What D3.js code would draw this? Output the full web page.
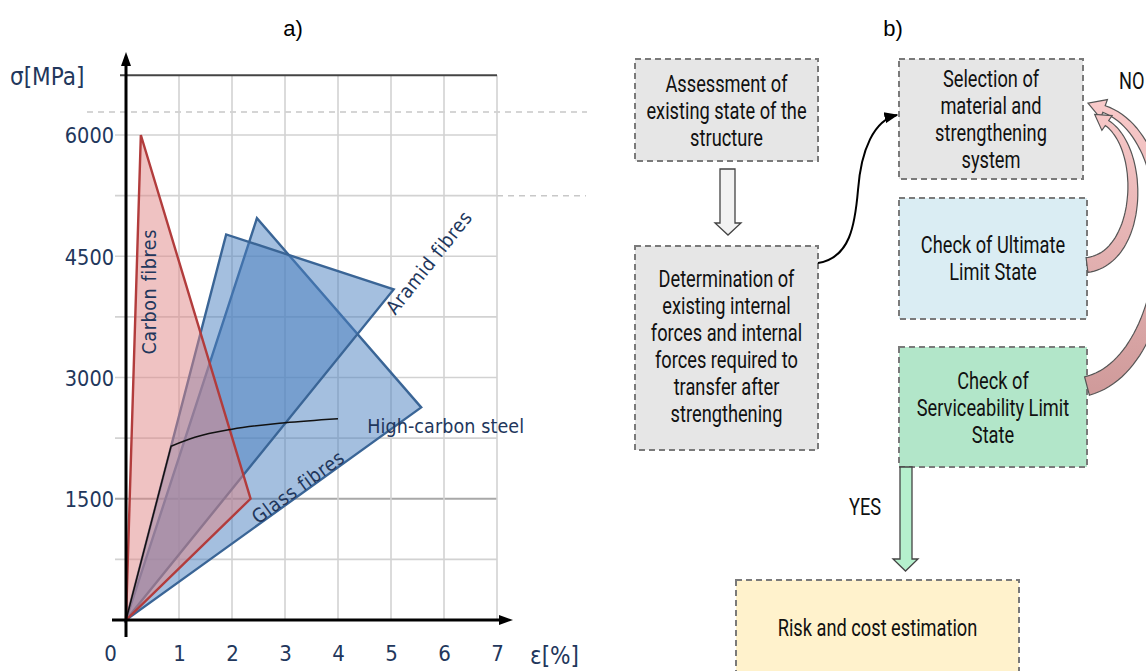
<!DOCTYPE html>
<html><head><meta charset="utf-8">
<script src="https://cdn.jsdelivr.net/npm/d3@7"></script>
<style>body{margin:0;background:#fff;overflow:hidden} svg{display:block}</style>
</head><body><svg id="c" width="1146" height="671"></svg>
<script>
// ---------- DATA ----------
const strainTicks = [0, 1, 2, 3, 4, 5, 6, 7];
const stressTickLabels = [1500, 3000, 4500, 6000];
const stressGrid = [750, 1500, 2250, 3000, 3750, 4500, 5250, 6000];
const carbonFibres = [[0, 0], [0.28, 6000], [2.35, 1500]];
const aramidFibres = [[0, 0], [1.89, 4770], [5.05, 4090]];
const glassFibres = [[0, 0], [2.47, 4970], [5.57, 2630]];
const highCarbonSteel = [[0, 0], [0.85, 2150], [1.3, 2260], [2, 2360], [3, 2440], [4, 2490]];
const materialNames = ["Carbon fibres", "Aramid fibres", "Glass fibres", "High-carbon steel"];
const flowTexts = [
  ["Assessment of", "existing state of the", "structure"],
  ["Determination of", "existing internal", "forces and internal", "forces required to", "transfer after", "strengthening"],
  ["Selection of", "material and", "strengthening", "system"],
  ["Check of Ultimate", "Limit State"],
  ["Check of", "Serviceability Limit", "State"],
  ["Risk and cost estimation"]
];
const decisionLabels = ["YES", "NO"];

// ---------- LAYOUT ----------
const svg = d3.select("#c");
const x = d3.scaleLinear().domain([0, 7]).range([126, 497]);
const y = d3.scaleLinear().domain([0, 6000]).range([620, 135]);
const chartFont = "'DejaVu Sans Condensed','DejaVu Sans',sans-serif";
const navy = "#22375c";

// titles
svg.append("text").attr("x", 293).attr("y", 36).attr("text-anchor", "middle")
  .attr("font-family", "'Liberation Sans',Arial,sans-serif").attr("font-size", 22).text("a)");
svg.append("text").attr("x", 893).attr("y", 36).attr("text-anchor", "middle")
  .attr("font-family", "'Liberation Sans',Arial,sans-serif").attr("font-size", 22).text("b)");

const g = svg.append("g");

// decorative dashed lines
g.append("line").attr("x1", 87).attr("x2", 587).attr("y1", y(6285)).attr("y2", y(6285))
  .attr("stroke", "#c8c8c8").attr("stroke-width", 1.5).attr("stroke-dasharray", "6,5");
g.append("line").attr("x1", x(7)).attr("x2", 586).attr("y1", y(5250)).attr("y2", y(5250))
  .attr("stroke", "#c8c8c8").attr("stroke-width", 1.5).attr("stroke-dasharray", "6,5");

// grid
g.selectAll(".hg").data(stressGrid).enter().append("line")
  .attr("x1", 115).attr("x2", x(7)).attr("y1", d => y(d)).attr("y2", d => y(d))
  .attr("stroke", d => d === 1500 ? "#a8a8a8" : "#d2d2d2").attr("stroke-width", d => d === 1500 ? 2 : 1.6);
g.selectAll(".vg").data(strainTicks.slice(1)).enter().append("line")
  .attr("x1", d => x(d)).attr("x2", d => x(d)).attr("y1", y(6740)).attr("y2", y(0))
  .attr("stroke", "#d2d2d2").attr("stroke-width", 1.6);
// top border
g.append("line").attr("x1", 120).attr("x2", x(7)).attr("y1", y(6740)).attr("y2", y(6740))
  .attr("stroke", "#444").attr("stroke-width", 2);

// materials
const line = d3.line().x(d => x(d[0])).y(d => y(d[1]));
const polys = [
  {pts: glassFibres, fill: "#4a7fc0", stroke: "#3a6596"},
  {pts: aramidFibres, fill: "#4a7fc0", stroke: "#3a6596"},
  {pts: carbonFibres, fill: "#e08585", stroke: "#b23c3c"}
];
g.selectAll(".mat").data(polys).enter().append("path")
  .attr("d", d => line(d.pts) + "Z")
  .attr("fill", d => d.fill).attr("fill-opacity", 0.5)
  .attr("stroke", d => d.stroke).attr("stroke-width", 2.4).attr("stroke-linejoin", "miter");

// steel curve: straight elastic part, then smooth hardening curve
const curve = d3.line().x(d => x(d[0])).y(d => y(d[1])).curve(d3.curveMonotoneX);
const steelD = "M" + x(highCarbonSteel[0][0]) + "," + y(highCarbonSteel[0][1]) + "L" + curve(highCarbonSteel.slice(1)).slice(1);
g.append("path").attr("d", steelD).attr("fill", "none").attr("stroke", "#111").attr("stroke-width", 1.5);

// axes lines with arrows
g.append("line").attr("x1", x(0)).attr("x2", x(0)).attr("y1", 637).attr("y2", 62)
  .attr("stroke", "#000").attr("stroke-width", 3);
g.append("path").attr("d", `M${x(0)},52 L${x(0) - 5},66 L${x(0) + 5},66 Z`).attr("fill", "#000");
g.append("line").attr("x1", 112).attr("x2", 503).attr("y1", y(0)).attr("y2", y(0))
  .attr("stroke", "#000").attr("stroke-width", 3);
g.append("path").attr("d", `M513,${y(0)} L499,${y(0) - 5} L499,${y(0) + 5} Z`).attr("fill", "#000");

// tick labels via d3 axes
const yAxis = d3.axisLeft(y).tickValues(stressTickLabels).tickSize(0).tickPadding(0).tickFormat(d3.format("d"));
const ya = g.append("g").attr("transform", "translate(114,0)").call(yAxis);
ya.select(".domain").remove();
ya.selectAll("text").attr("font-family", chartFont).attr("font-size", 21.5).attr("fill", navy).attr("dy", "0.36em");

const xAxis = d3.axisBottom(x).tickValues(strainTicks).tickSize(0).tickPadding(0).tickFormat(d3.format("d"));
const xa = g.append("g").attr("transform", "translate(0,645)").call(xAxis);
xa.select(".domain").remove();
xa.selectAll("text").attr("font-family", chartFont).attr("font-size", 22).attr("fill", navy)
  .attr("dy", "0.71em").attr("dx", d => d === 0 ? -16 : 0);

// axis titles
g.append("text").attr("x", 10).attr("y", 85).attr("font-family", chartFont).attr("font-size", 24)
  .attr("fill", navy).text("σ[MPa]");
g.append("text").attr("x", 530).attr("y", 664).attr("font-family", chartFont).attr("font-size", 24)
  .attr("fill", navy).text("ε[%]");

// material labels
function label(txt, dx, dy, angle, anchor, ls) {
  g.append("text").attr("transform", `translate(${x(dx)},${y(dy)}) rotate(${angle})`)
    .attr("text-anchor", anchor).attr("dominant-baseline", "central")
    .attr("font-family", chartFont).attr("font-size", 19.5).attr("letter-spacing", ls)
    .attr("fill", navy).text(txt);
}
label(materialNames[0], 0.45, 4060, -90, "middle", 0.6);
label(materialNames[1], 5.72, 4420, -51.5, "middle", 0.6);
label(materialNames[2], 3.25, 1640, -36, "middle", 0.6);
label(materialNames[3], 4.55, 2400, 0, "start", 0.1);

// ---------- FLOWCHART ----------
const boxes = [
  {x: 635, y: 59, w: 183, h: 102, fill: "#e6e6e6", cx: 726.5, base: 92},
  {x: 635, y: 246, w: 183, h: 204, fill: "#e6e6e6", cx: 726.5, base: 287},
  {x: 899, y: 59, w: 184, h: 120, fill: "#e6e6e6", cx: 991, base: 87},
  {x: 899, y: 198, w: 188, h: 121, fill: "#daedf3", cx: 993, base: 253},
  {x: 899, y: 347, w: 188, h: 120, fill: "#b2e6c9", cx: 993, base: 389},
  {x: 736, y: 580, w: 283, h: 130, fill: "#fff2cc", cx: 877.5, base: 636}
];
const fg = svg.append("g");
const flowFont = "Roboto,'Liberation Sans',sans-serif";

svg.append("defs").html(`
  <marker id="ah" viewBox="0 0 10 10" refX="9" refY="5" markerWidth="7" markerHeight="7" orient="auto">
    <path d="M0,1 L10,5 L0,9 Z" fill="#000"/></marker>
  <linearGradient id="pg" gradientUnits="userSpaceOnUse" x1="0" y1="100" x2="0" y2="395">
    <stop offset="0" stop-color="#f9caca"/><stop offset="1" stop-color="#cf9a9a"/></linearGradient>`);

fg.selectAll(".box").data(boxes).enter().append("rect")
  .attr("x", d => d.x).attr("y", d => d.y).attr("width", d => d.w).attr("height", d => d.h)
  .attr("fill", d => d.fill).attr("stroke", "#7a7a7a").attr("stroke-width", 2).attr("stroke-dasharray", "6,4");

boxes.forEach((b, i) => {
  flowTexts[i].forEach((t, j) => {
    fg.append("text").attr("transform", `translate(${b.cx},${b.base + j * 27}) scale(0.76,1)`)
      .attr("text-anchor", "middle").attr("font-family", flowFont).attr("font-size", 24)
      .attr("fill", "#111").text(t);
  });
});

// hollow down arrow
fg.append("path").attr("d", "M720,169 L735,169 L735,223 L741,223 L728,235 L715,223 L720,223 Z")
  .attr("fill", "#f2f2f2").attr("stroke", "#444").attr("stroke-width", 1.3);
// green down arrow
fg.append("path").attr("d", "M900,467 L912,467 L912,559 L918,559 L905.5,571 L893,559 L900,559 Z")
  .attr("fill", "#b5f0cd").attr("stroke", "#444").attr("stroke-width", 1.3);

// black curved connector
fg.append("path").attr("d", "M818,263 C850,258 855,225 858,190 C861,150 874,120 897,115")
  .attr("fill", "none").attr("stroke", "#000").attr("stroke-width", 2).attr("marker-end", "url(#ah)");

// pink block arrows
function bandArrow(p0, p1, p2, p3, w0, w1, headLen, headW) {
  const N = 60, L = [], R = [];
  let last;
  for (let i = 0; i <= N; i++) {
    const t = i / N, u = 1 - t;
    const px = u*u*u*p0[0] + 3*u*u*t*p1[0] + 3*u*t*t*p2[0] + t*t*t*p3[0];
    const py = u*u*u*p0[1] + 3*u*u*t*p1[1] + 3*u*t*t*p2[1] + t*t*t*p3[1];
    let tx = 3*u*u*(p1[0]-p0[0]) + 6*u*t*(p2[0]-p1[0]) + 3*t*t*(p3[0]-p2[0]);
    let ty = 3*u*u*(p1[1]-p0[1]) + 6*u*t*(p2[1]-p1[1]) + 3*t*t*(p3[1]-p2[1]);
    const m = Math.hypot(tx, ty); tx /= m; ty /= m;
    const w = (w0 + (w1 - w0) * t) / 2;
    L.push([px - ty * w, py + tx * w]); R.push([px + ty * w, py - tx * w]);
    last = {px, py, tx, ty};
  }
  const {px, py, tx, ty} = last;
  const hl = [px - ty * headW / 2, py + tx * headW / 2], hr = [px + ty * headW / 2, py - tx * headW / 2];
  const tip = [px + tx * headLen, py + ty * headLen];
  const pts = L.concat([hl, tip, hr]).concat(R.reverse());
  return "M" + pts.map(p => p[0].toFixed(1) + "," + p[1].toFixed(1)).join("L") + "Z";
}
fg.append("path").attr("d", bandArrow([1087, 386], [1180, 362], [1190, 140], [1104, 109], 19, 7, 17, 20))
  .attr("fill", "url(#pg)").attr("stroke", "#555").attr("stroke-width", 1.2);
fg.append("path").attr("d", bandArrow([1087, 265], [1142, 258], [1146, 150], [1107, 123], 15, 6, 15, 18))
  .attr("fill", "url(#pg)").attr("stroke", "#555").attr("stroke-width", 1.2);

// YES / NO
fg.append("text").attr("transform", "translate(865,515) scale(0.76,1)").attr("text-anchor", "middle")
  .attr("font-family", flowFont).attr("font-size", 24).attr("fill", "#111").text(decisionLabels[0]);
fg.append("text").attr("transform", "translate(1119,89) scale(0.76,1)").attr("text-anchor", "start")
  .attr("font-family", flowFont).attr("font-size", 24).attr("fill", "#111").text(decisionLabels[1]);
</script></body></html>
